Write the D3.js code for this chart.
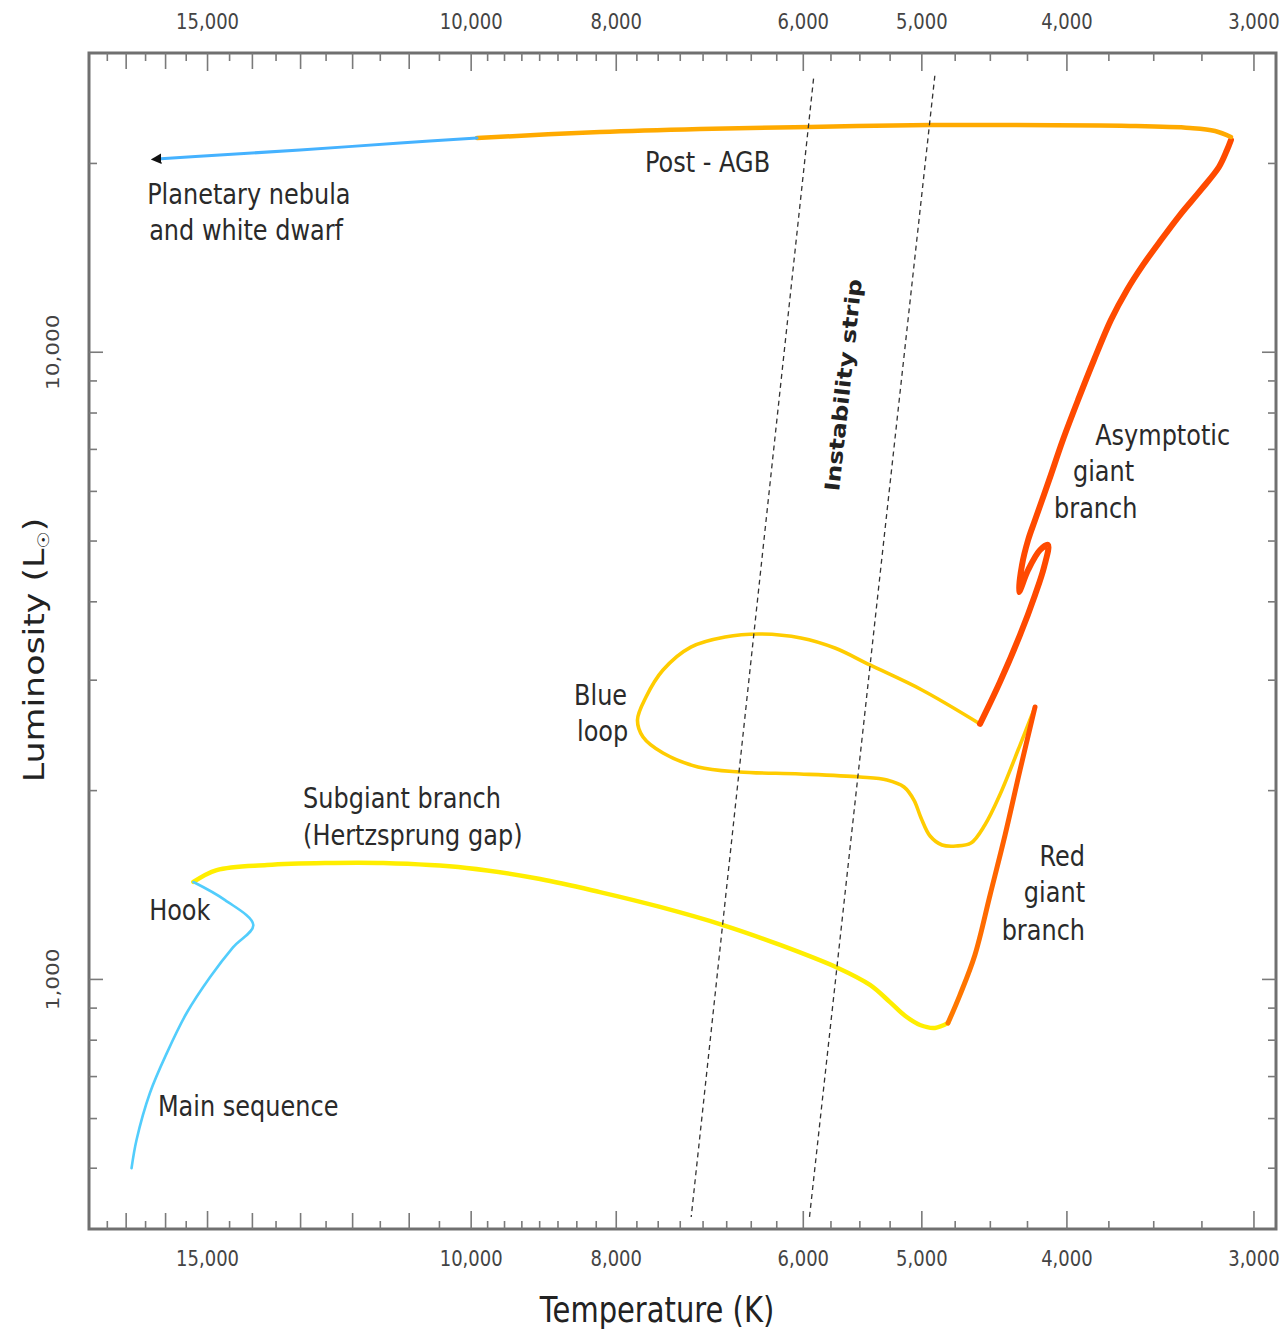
<!DOCTYPE html>
<html><head><meta charset="utf-8">
<script src="https://cdn.jsdelivr.net/npm/d3@7"></script>
<style>body{margin:0;background:#fff}svg{display:block}</style>
</head><body><svg id="c" width="1284" height="1330"></svg>
<script>
// ---------- data ----------
const tempDomain = [18000, 2900];
const lumDomain = [400, 30000];
const tempLabelTicks = [15000, 10000, 8000, 6000, 5000, 4000, 3000];
const tempMediumTicks = [17000, 16000, 14000, 13000, 12000, 11000];
const tempMinorTicks = d3.range(3000, 10001, 250).concat(d3.range(10500, 17501, 1000));
const lumLabelTicks = [1000, 10000];
const lumMinorTicks = [500, 600, 700, 800, 900, 2000, 3000, 4000, 5000, 6000, 7000, 8000, 9000, 20000];

// evolutionary track segments (temperature K, luminosity Lsun)
const mainSeqT = [16860, 16730, 16390, 15970, 15490, 14940, 14420, 13980, 14600, 15330];
const mainSeqL = [500, 555, 659, 763, 884, 1009, 1126, 1221, 1338, 1430];
const subgiantT = [15330, 14790, 13690, 12520, 11450, 10070, 8995, 8204, 7480, 6789, 6218, 5689, 5415, 5251, 5131, 5014, 4900, 4803];
const subgiantL = [1430, 1494, 1522, 1533, 1533, 1506, 1446, 1378, 1305, 1221, 1135, 1043, 980, 920, 875, 846, 837, 852];
const rgbT = [4803, 4715, 4608, 4502, 4399, 4299, 4201];
const rgbL = [852, 945, 1094, 1363, 1700, 2158, 2719];
const blueLoopT = [4201, 4299, 4435, 4538, 4636, 4744, 4847, 4937, 5006, 5061, 5139, 5275, 5500, 6030, 6625, 7055, 7445, 7677, 7743, 7642, 7445, 7133, 6767, 6415, 6022, 5715, 5415, 4999, 4572];
const blueLoopL = [2719, 2364, 1968, 1763, 1650, 1632, 1638, 1693, 1809, 1932, 2027, 2080, 2103, 2126, 2142, 2182, 2296, 2435, 2592, 2820, 3114, 3388, 3516, 3555, 3503, 3376, 3172, 2894, 2555];
const agbT = [4572, 4434, 4299, 4201, 4143, 4118, 4169, 4246, 4306, 4286, 4246, 4201, 4111, 4025, 3932, 3837, 3738, 3647, 3558, 3461, 3362, 3255, 3166, 3127, 3108];
const agbL = [2555, 2980, 3542, 4102, 4546, 4928, 4838, 4496, 4147, 4580, 5019, 5401, 6256, 7246, 8393, 9719, 11260, 12570, 13780, 15100, 16550, 18150, 19740, 21010, 21800];
const postAgbT = [3108, 3185, 3310, 3630, 4434, 4937, 5939, 7033, 8204, 9911];
const postAgbL = [22040, 22530, 22780, 22950, 23030, 23030, 22870, 22700, 22450, 21960];
const whiteDwarfT = [9911, 11155, 13010, 14720, 16210];
const whiteDwarfL = [21960, 21560, 21010, 20630, 20330];
const stripLeftT = [5906, 7129];
const stripLeftL = [27310, 418];
const stripRightT = [4901, 5943];
const stripRightL = [27600, 418];

// annotations: text, anchor temperature, anchor luminosity
const annotText = ["Post - AGB", "Planetary nebula", "and white dwarf", "Asymptotic", "giant", "branch",
  "Blue", "loop", "Subgiant branch", "(Hertzsprung gap)", "Hook", "Main sequence", "Red", "giant", "branch"];
const annotT = [7654, 16460, 16410, 3830, 3963, 4080, 8537, 8498, 12950, 12950, 16410, 16190, 3890, 3890, 3890];
const annotL = [19380, 17240, 15100, 7114, 6233, 5441, 2739, 2400, 1876, 1638, 1244, 606, 1517, 1329, 1156];
const annotAnchor = ["start", "start", "start", "start", "start", "start", "start", "start", "start", "start", "start", "start", "end", "end", "end"];
const stripLabel = "Instability strip";
const stripLabelT = 5643, stripLabelL = 8866;

// ---------- drawing ----------
const PL = 89, PR = 1276, PT = 53, PB = 1229;
const STRETCH = 1.2;
const FONT = "'DejaVu Sans', sans-serif";
const svg = d3.select("#c");
const x = d3.scaleLog().domain(tempDomain).range([PL, PR]);
const y = d3.scaleLog().domain(lumDomain).range([PB, PT]);

const defs = svg.append("defs");
defs.append("marker").attr("id", "arrow").attr("viewBox", "0 0 10 10")
  .attr("refX", 4).attr("refY", 5).attr("markerWidth", 3.5).attr("markerHeight", 3.5)
  .attr("orient", "auto").attr("markerUnits", "strokeWidth")
  .append("path").attr("d", "M0,0 L10,5 L0,10 z").attr("fill", "#111");
const rg = defs.append("linearGradient").attr("id", "rgbGrad").attr("gradientUnits", "userSpaceOnUse")
  .attr("x1", 0).attr("x2", 0).attr("y1", y(rgbL[0])).attr("y2", y(rgbL[rgbL.length - 1]));
rg.append("stop").attr("offset", 0).attr("stop-color", "#ff7a00");
rg.append("stop").attr("offset", 1).attr("stop-color", "#ff4e00");

const line = d3.line().x(d => x(d[0])).y(d => y(d[1])).curve(d3.curveCatmullRom.alpha(0.5));
const zip = (a, b) => a.map((v, i) => [v, b[i]]);

const segments = [
  {T: subgiantT, L: subgiantL, color: "#ffee00", w: 4.5},
  {T: mainSeqT, L: mainSeqL, color: "#52cdfc", w: 2.6},
  {T: blueLoopT, L: blueLoopL, color: "#ffcc00", w: 3.6},
  {T: rgbT, L: rgbL, color: "url(#rgbGrad)", w: 5},
  {T: agbT, L: agbL, color: "#ff4a00", w: 6},
  {T: postAgbT, L: postAgbL, color: "#ffaa00", w: 4.5},
  {T: whiteDwarfT, L: whiteDwarfL, color: "#45b2ff", w: 3, marker: true}
];
segments.forEach(s => {
  const p = svg.append("path").attr("d", line(zip(s.T, s.L)))
    .attr("fill", "none").attr("stroke", s.color).attr("stroke-width", s.w)
    .attr("stroke-linecap", "round").attr("stroke-linejoin", "round");
  if (s.marker) p.attr("marker-end", "url(#arrow)");
});

// instability strip
[[stripLeftT, stripLeftL], [stripRightT, stripRightL]].forEach(([t, l]) => {
  svg.append("path").attr("d", d3.line().x(d => x(d[0])).y(d => y(d[1]))(zip(t, l)))
    .attr("stroke", "#333").attr("stroke-width", 1.3).attr("stroke-dasharray", "5,4").attr("fill", "none");
});

// frame
svg.append("rect").attr("x", PL).attr("y", PT).attr("width", PR - PL).attr("height", PB - PT)
  .attr("fill", "none").attr("stroke", "#707070").attr("stroke-width", 3);

// ticks
const tk = svg.append("g").attr("stroke", "#7a7a7a").attr("stroke-width", 1.6);
function xTick(v, len) {
  const px = x(v);
  if (px <= PL + 2 || px >= PR - 2) return;
  tk.append("line").attr("x1", px).attr("x2", px).attr("y1", PT).attr("y2", PT + len);
  tk.append("line").attr("x1", px).attr("x2", px).attr("y1", PB).attr("y2", PB - len);
}
function yTick(v, len) {
  const py = y(v);
  tk.append("line").attr("y1", py).attr("y2", py).attr("x1", PL).attr("x2", PL + len);
  tk.append("line").attr("y1", py).attr("y2", py).attr("x1", PR).attr("x2", PR - len);
}
tempMinorTicks.filter(v => !tempLabelTicks.includes(v) && !tempMediumTicks.includes(v)).forEach(v => xTick(v, 8));
tempMediumTicks.forEach(v => xTick(v, 16));
tempLabelTicks.forEach(v => xTick(v, 18));
lumMinorTicks.forEach(v => yTick(v, 8));
lumLabelTicks.forEach(v => yTick(v, 14));

// text helper reproducing the reference's vertical stretch
function stretchedText(px, py, txt, size, opts = {}) {
  let tr = `translate(${px},${py})`;
  if (opts.rotate !== undefined) tr += ` rotate(${opts.rotate}) scale(${STRETCH},1)`;
  else tr += ` scale(1,${STRETCH})`;
  const g = svg.append("g").attr("transform", tr);
  const t = g.append("text").attr("font-family", FONT).attr("font-size", size)
    .attr("fill", opts.fill || "#2a2a2a").attr("text-anchor", opts.anchor || "start")
    .attr("font-weight", opts.weight || "normal");
  if (opts.baseline) t.attr("dominant-baseline", opts.baseline);
  t.text(txt);
  return t;
}
const fmt = d3.format(",");
tempLabelTicks.forEach(v => {
  stretchedText(x(v), 29, fmt(v), 18, {anchor: "middle", fill: "#444"});
  stretchedText(x(v), 1266, fmt(v), 18, {anchor: "middle", fill: "#444"});
});
lumLabelTicks.forEach(v => {
  stretchedText(59, y(v), fmt(v), 18, {anchor: "middle", rotate: -90, fill: "#444"});
});

// axis titles
stretchedText(657, 1322, "Temperature (K)", 29, {anchor: "middle", fill: "#222"});
const lum = stretchedText(44, 650, "Luminosity (L", 29, {anchor: "middle", rotate: -90, fill: "#222"});
lum.append("tspan").attr("font-size", 16).attr("dy", 5).text("☉");
lum.append("tspan").attr("dy", -5).text(")");

// annotations
annotText.forEach((t, i) => {
  stretchedText(x(annotT[i]), y(annotL[i]), t, 24, {anchor: annotAnchor[i]});
});
const sdx = x(stripLeftT[0]) - x(stripLeftT[1]);
const sdy = y(stripLeftL[0]) - y(stripLeftL[1]);
const rot = Math.atan2(sdy, sdx) * 180 / Math.PI;
stretchedText(x(stripLabelT), y(stripLabelL), stripLabel, 20.5, {anchor: "middle", rotate: rot, weight: "bold", baseline: "central", fill: "#222"});
</script></body></html>
